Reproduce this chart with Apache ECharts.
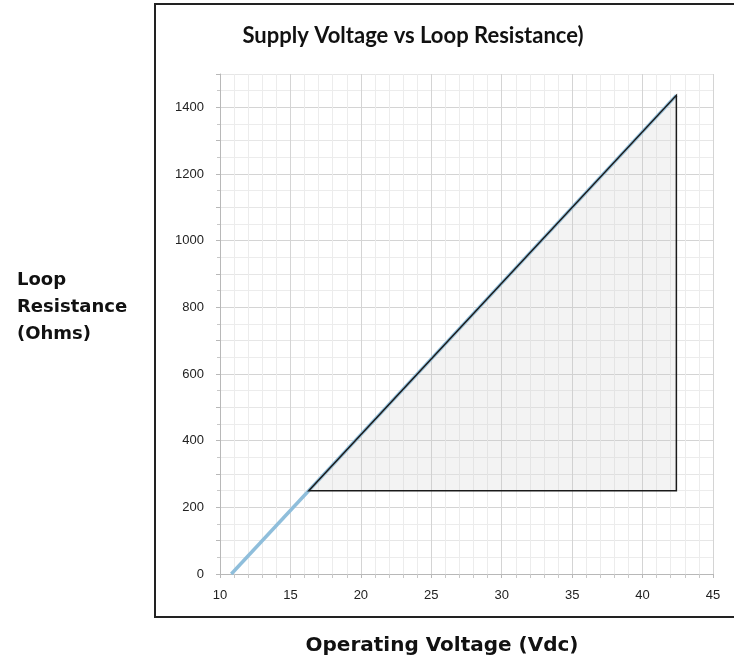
<!DOCTYPE html>
<html>
<head>
<meta charset="utf-8">
<script src="https://cdn.jsdelivr.net/npm/echarts@6/dist/echarts.min.js"></script>
<style>
  html, body { margin: 0; padding: 0; background: #fff; }
  #chart { width: 734px; height: 657px; }
</style>
</head>
<body>
<div id="chart"></div>
<script>
// supply line: operating voltage (Vdc) vs loop resistance (Ohms)
var lineVolts = [10.8, 42.4];
var lineOhms = [0, 1436];
// operating region (triangle)
var regionVolts = [16.3, 42.4, 42.4];
var regionOhms = [250, 1436, 250];

var xTicks = [10, 15, 20, 25, 30, 35, 40, 45];

var chart = echarts.init(document.getElementById('chart'));

var option = {
  animation: false,
  backgroundColor: '#fff',
  grid: { left: 220, right: 21, top: 74, bottom: 83 },
  xAxis: {
    type: 'value',
    min: xTicks[0],
    max: xTicks[xTicks.length - 1],
    interval: 5,
    axisLine: { show: true, lineStyle: { color: '#b8b8b8' } },
    axisTick: { show: true, length: 4, lineStyle: { color: '#b8b8b8' } },
    minorTick: { show: true, splitNumber: 5, length: 4, lineStyle: { color: '#c8c8c8' } },
    axisLabel: { color: '#222', fontFamily: 'Liberation Sans', fontSize: 13, margin: 15 },
    splitLine: { show: true, lineStyle: { color: '#d4d4d4', width: 1 } },
    minorSplitLine: { show: true, lineStyle: { color: '#ececec', width: 1 } }
  },
  yAxis: {
    type: 'value',
    min: 0,
    max: 1500,
    interval: 100,
    axisLine: { show: true, lineStyle: { color: '#b8b8b8' } },
    axisTick: { show: true, length: 4, lineStyle: { color: '#b8b8b8' } },
    minorTick: { show: true, splitNumber: 2, length: 3, lineStyle: { color: '#c8c8c8' } },
    axisLabel: {
      color: '#222', fontFamily: 'Liberation Sans', fontSize: 13, margin: 16,
      formatter: function (v) { return v % 200 === 0 ? String(v) : ''; }
    },
    splitLine: { show: true, lineStyle: { color: ['#d4d4d4', '#e6e6e6'], width: 1 } },
    minorSplitLine: { show: true, lineStyle: { color: '#ececec', width: 1 } }
  },
  series: [
    {
      type: 'line',
      data: lineVolts.map(function (v, i) { return [v, lineOhms[i]]; }),
      symbol: 'none',
      z: 2,
      lineStyle: { color: '#8fbedb', width: 3.5 }
    },
    {
      type: 'custom',
      z: 3,
      data: [[regionVolts[0], regionOhms[0]]],
      encode: { x: 0, y: 1 },
      renderItem: function (params, api) {
        var pts = regionVolts.map(function (v, i) {
          return api.coord([v, regionOhms[i]]);
        });
        return {
          type: 'polygon',
          shape: { points: pts },
          style: {
            fill: 'rgba(200,200,200,0.22)',
            stroke: '#1a1a1a',
            lineWidth: 1.5
          }
        };
      }
    }
  ],
  graphic: [
    {
      type: 'rect',
      shape: { x: 155, y: 4, width: 640, height: 613 },
      style: { fill: 'none', stroke: '#222', lineWidth: 2 },
      silent: true
    },
    {
      type: 'text',
      x: 413, y: 36,
      style: {
        text: 'Supply Voltage vs Loop Resistance)',
        font: 'bold 22px Lato',
        fill: '#111',
        textAlign: 'center',
        textVerticalAlign: 'middle'
      }
    },
    {
      type: 'text',
      x: 17, y: 267,
      style: {
        text: 'Loop\nResistance\n(Ohms)',
        font: 'bold 18px "DejaVu Sans"',
        lineHeight: 27,
        fill: '#111',
        textAlign: 'left'
      }
    },
    {
      type: 'text',
      x: 442, y: 646,
      style: {
        text: 'Operating Voltage (Vdc)',
        font: 'bold 20px "DejaVu Sans"',
        fill: '#111',
        textAlign: 'center',
        textVerticalAlign: 'middle'
      }
    }
  ]
};

chart.setOption(option);
</script>
</body>
</html>
